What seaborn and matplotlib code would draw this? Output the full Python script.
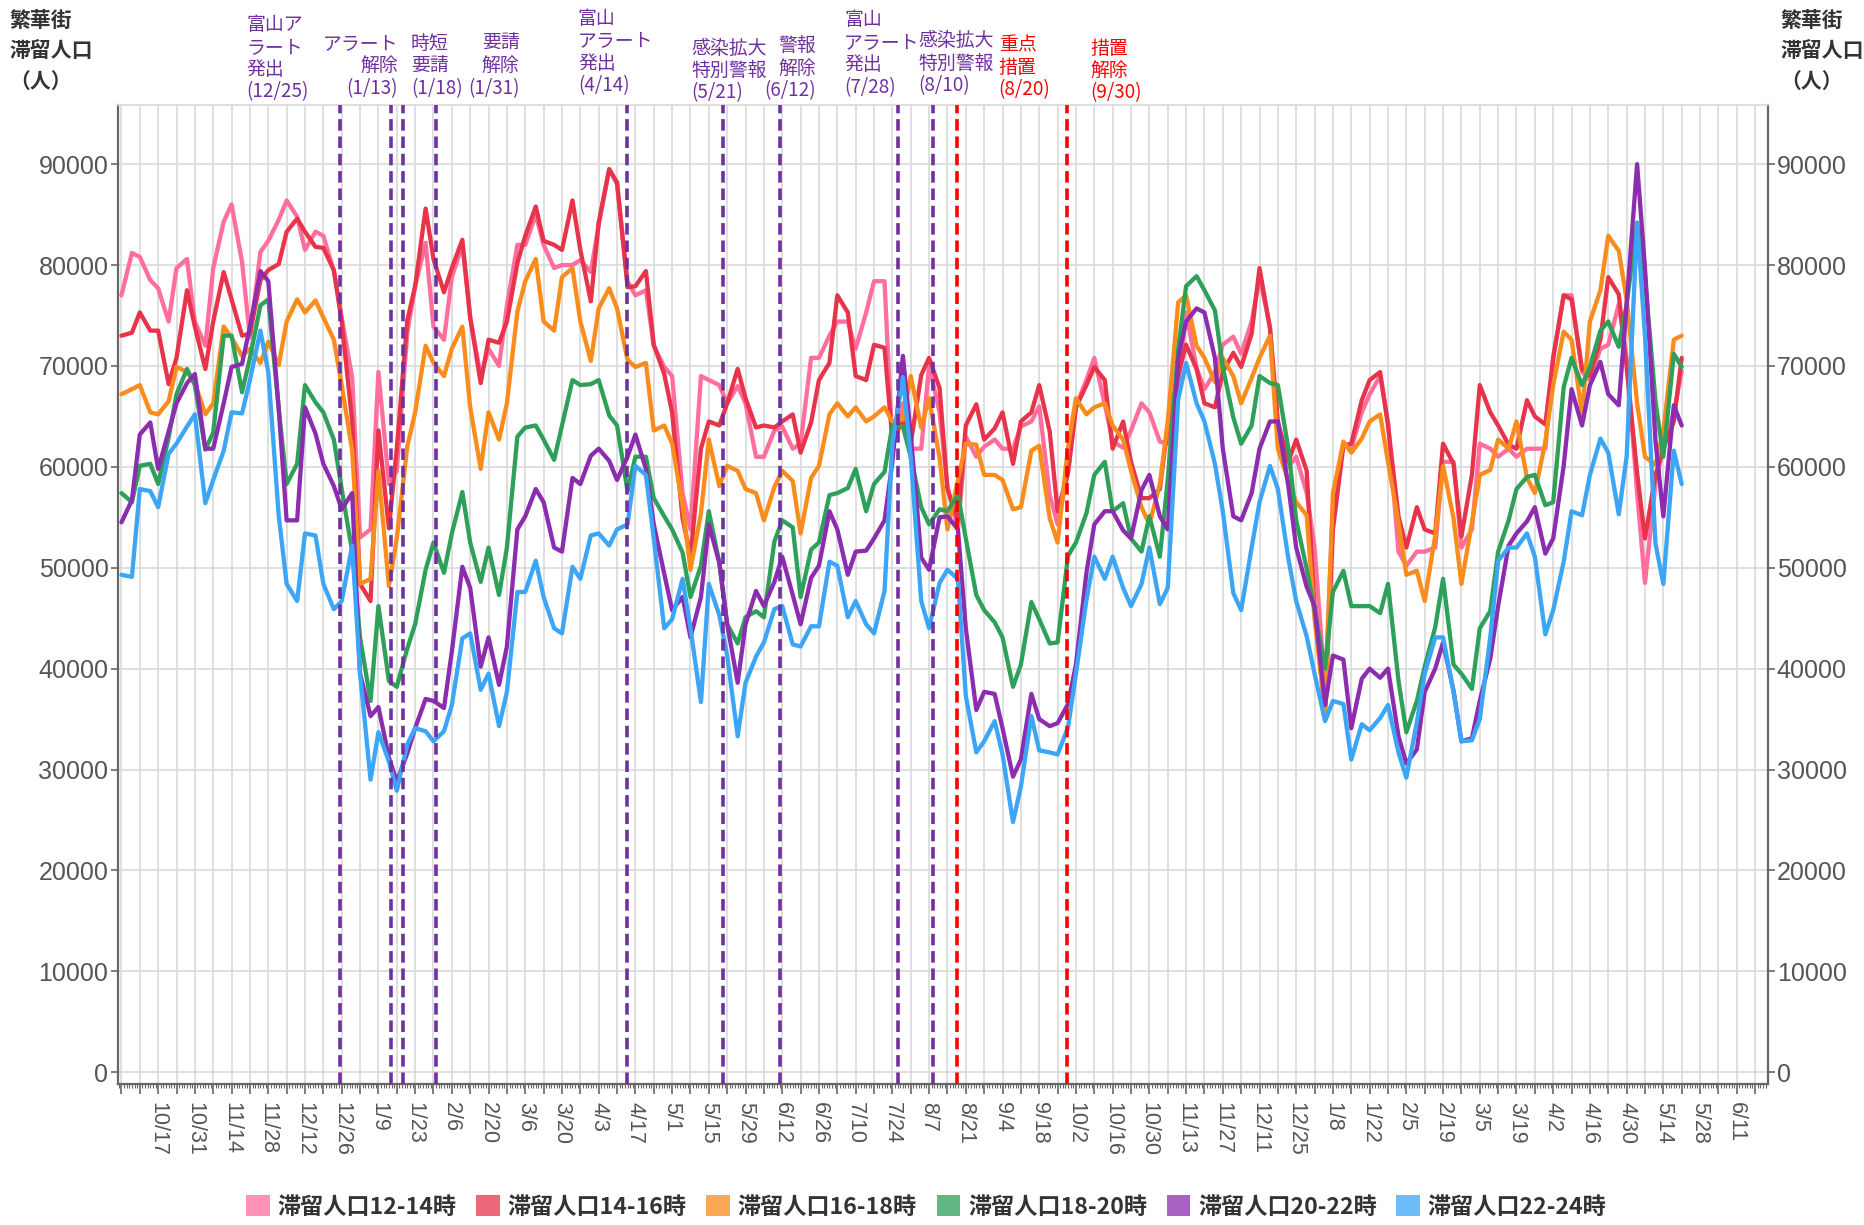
import pandas as pd
import numpy as np
import matplotlib
matplotlib.use("Agg")
import matplotlib.pyplot as plt
import matplotlib.dates as mdates
from matplotlib.ticker import FuncFormatter, FixedLocator
from matplotlib.patches import Patch
import seaborn as sns

# ---------------- data ----------------
# readings twice a week: every Saturday and every Wednesday, 2020-10-03 .. 2022-05-21
sat = pd.date_range('2020-10-03', '2022-05-21', freq='W-SAT')
wed = pd.date_range('2020-10-07', '2022-05-18', freq='W-WED')
dates = sat.union(wed)

pop_12_14 = [
    77000, 81200, 80800, 78500, 77700, 74400, 79700, 80600, 74400, 72000, 79700, 84300, 86000, 80300,
    72800, 81300, 82400, 84500, 86400, 84800, 81500, 83300, 82900, 79400, 74800, 68800,
    53000, 53800, 69400, 58300, 59600, 73300, 77900, 82200, 73900, 72600, 78800, 82000, 74800, 69000,
    71700, 70000, 76000, 82000, 82000, 85000, 82000, 79700, 80000, 80000, 80500, 79300, 84000, 89500,
    88000, 78400, 77000, 77500, 72000, 69900, 69000, 57400, 53800, 69000, 68600, 68100, 66300, 68000,
    66300, 61000, 61000, 63600, 64000, 61800, 62300, 70800, 70800, 73000, 74400, 74400, 71700, 75300,
    78400, 78400, 62000, 66300, 61800, 61800, 70000, 65400, 58000, 53800, 63000, 61000, 62000, 62700,
    61800, 61800, 64000, 64500, 66000, 57200, 54300, 59500, 66000, 68600, 70800, 66200, 62500, 61900,
    63600, 66300, 65400, 62500, 62300, 68100, 75300, 69800, 67700, 69400, 72100, 72900, 71200, 74400,
    78800, 73900, 62700, 60000, 61000, 57400,
    52000, 38000, 56000, 62300, 61800, 65400, 67200, 69000, 64500, 51600, 50200, 51600, 51600, 52000,
    60500, 60500, 52000, 53800, 62300, 61800, 61000, 61800, 61000, 61800, 61800, 61800, 70800, 77000,
    77000, 69400, 68600, 71700, 72100, 76100, 70800, 57400, 48500, 58300, 62000, 65400, 69500,
]
pop_14_16 = [
    73000, 73300, 75300, 73500, 73500, 68200, 70800, 77500, 73900, 69700, 74400, 79300, 76600, 73000,
    73200, 78500, 79500, 80100, 83300, 84600, 83300, 81800, 81700, 79500, 74400, 64500,
    48400, 46700, 63600, 53900, 61800, 74500, 77900, 85600, 80600, 77300, 79700, 82500, 74800, 68300,
    72600, 72300, 74400, 80200, 82900, 85800, 82400, 82000, 81500, 86400, 81500, 76400, 84200, 89500,
    88200, 77800, 77900, 79400, 72100, 69200, 65400, 54900, 51100, 61800, 64500, 64100, 66300, 69700,
    66800, 63900, 64100, 63900, 64500, 65200, 61400, 64400, 68600, 70300, 77000, 75300, 69000, 68600,
    72100, 71800, 62700, 64500, 62300, 69100, 70800, 67800, 57800, 54700, 64100, 66200, 62700, 63800,
    65400, 60300, 64500, 65400, 68100, 63500, 55600, 59500, 65900, 68100, 69900, 68600, 61800, 64500,
    60500, 56900, 56900, 57800, 64100, 69100, 72100, 69700, 66300, 65900, 69400, 71300, 69900, 73200,
    79700, 73700, 64500, 60500, 62700, 59600,
    45800, 35500, 53800, 62100, 62300, 66600, 68600, 69400, 64100, 55100, 52000, 56000, 53800, 53400,
    62300, 60300, 53100, 59200, 68100, 65400, 64100, 62200, 61800, 66600, 65000, 64200, 70800, 77000,
    76600, 69700, 69000, 72600, 78800, 77100, 69900, 59400, 52900, 59200, 61800, 64500, 70800,
]
pop_16_18 = [
    67200, 67700, 68100, 65400, 65200, 66500, 69900, 69400, 68300, 65200, 66300, 73900, 72800, 71000,
    71700, 70300, 72400, 70100, 74400, 76600, 75300, 76500, 74800, 72600, 68100, 61600,
    48400, 48900, 59600, 48200, 52900, 62000, 65400, 72000, 70300, 69000, 71700, 73900, 65900, 59800,
    65400, 62700, 66300, 75400, 78400, 80600, 74400, 73500, 78800, 79700, 74400, 70500, 75700, 77700,
    75700, 70600, 69900, 70300, 63600, 64100, 62300, 56200, 49800, 55400, 62700, 58100, 60100, 59600,
    57800, 57400, 54700, 58000, 59600, 58600, 53400, 58900, 60100, 65200, 66300, 65000, 65900, 64500,
    65000, 65900, 64500, 64700, 69000, 63900, 66800, 60900, 53800, 58700, 62300, 62200, 59200, 59200,
    58700, 55800, 56000, 61600, 62100, 54900, 52500, 62000, 66800, 65200, 65900, 66300, 64100, 62700,
    59600, 56000, 54300, 58300, 64500, 76300, 77000, 72000, 70800, 68400, 70800, 69000, 66300, 68800,
    70800, 73000, 61800, 58600, 56500, 55200,
    44900, 35700, 57400, 62500, 61400, 62800, 64500, 65200, 60500, 54500, 49300, 49700, 46700, 53200,
    60100, 54900, 48400, 54500, 59200, 59700, 62700, 61800, 64500, 58900, 57400, 62500, 68100, 73400,
    72600, 65200, 74400, 77500, 82900, 81400, 76600, 66300, 61000, 60200, 63600, 72600, 73000,
]
pop_18_20 = [
    57400, 56500, 60100, 60300, 58300, 62900, 67200, 69700, 68100, 61700, 63400, 73000, 73000, 67400,
    70800, 76000, 76600, 65700, 58300, 60300, 68100, 66400, 65400, 62700, 57800, 51600,
    43100, 36800, 46200, 38800, 38200, 42000, 44400, 49800, 52500, 49500, 53400, 57500, 52500, 48600,
    52000, 47300, 52000, 63000, 63900, 64100, 62700, 60700, 64100, 68600, 68100, 68200, 68600, 65100,
    64100, 57600, 61000, 61000, 56900, 55100, 53800, 51500, 47100, 50200, 55600, 50500, 44400, 42500,
    45100, 45700, 45100, 52600, 54700, 54000, 47100, 51800, 52500, 57200, 57400, 57900, 59800, 55600,
    58300, 59500, 64100, 64000, 61000, 56000, 54300, 55800, 55600, 57200, 52900, 47300, 45800, 44600,
    43100, 38200, 40400, 46600, 44900, 42500, 42600, 51200, 52500, 55400, 59200, 60500, 55600, 56400,
    52900, 51600, 55100, 51100, 58700, 71700, 77900, 78900, 77500, 75500, 69900, 64900, 62300, 64100,
    69000, 68300, 68100, 61800, 54700, 49900,
    45800, 40000, 47600, 49700, 46200, 46200, 46200, 45500, 48400, 38800, 33700, 36800, 40200, 44100,
    48900, 40400, 39500, 38000, 44000, 45700, 51600, 54700, 57800, 59000, 59200, 56200, 56500, 67900,
    70800, 68100, 69900, 73500, 74400, 71900, 76100, 84200, 78800, 66500, 61000, 71200, 69900,
]
pop_20_22 = [
    54500, 56700, 63200, 64400, 59800, 63500, 66300, 68300, 69200, 61800, 61800, 66300, 69900, 70200,
    73900, 79400, 78400, 65700, 54700, 54700, 65900, 63300, 60300, 58100, 55800, 57400,
    39500, 35300, 36200, 31200, 28800, 31600, 34100, 37000, 36800, 36100, 41700, 50100, 48000, 40200,
    43100, 38400, 42200, 53800, 55100, 57800, 56500, 52000, 51600, 58900, 58300, 61100, 61800, 60600,
    58700, 61000, 63200, 59800, 54300, 49400, 45800, 47100, 43100, 47100, 54300, 50500, 44400, 38600,
    44400, 47700, 46200, 48600, 51100, 47300, 44400, 49000, 50200, 55600, 53800, 49300, 51600, 51700,
    52900, 54700, 60500, 71000, 63200, 51000, 49800, 55000, 55100, 53800, 44000, 35900, 37700, 37500,
    34100, 29300, 31000, 37500, 35000, 34300, 34600, 36500, 40400, 49500, 54300, 55600, 55600, 53700,
    52900, 57700, 59200, 55100, 53800, 70800, 74400, 75700, 75300, 70800, 61800, 55100, 54700, 57400,
    61800, 64500, 64500, 58100, 52000, 48100,
    46200, 36400, 41300, 40900, 34100, 39000, 40000, 39100, 40000, 33300, 30600, 32000, 37700, 40000,
    42600, 37800, 32800, 33100, 36800, 41000, 46200, 52200, 53400, 54600, 56000, 51400, 52900, 60100,
    67700, 64100, 68100, 70400, 67200, 66100, 76100, 90000, 79700, 62600, 55100, 66100, 64100,
]
pop_22_24 = [
    49300, 49100, 57800, 57600, 56000, 61300, 62300, 64000, 65200, 56400, 58700, 61600, 65400, 65300,
    68600, 73500, 69400, 55100, 48400, 46700, 53400, 53200, 48400, 45900, 46700, 52200,
    39500, 29000, 33700, 30800, 27900, 32500, 34100, 33800, 32800, 33800, 36400, 43000, 43500, 37900,
    39500, 34300, 37700, 47600, 47600, 50700, 47100, 44000, 43500, 50100, 48900, 53200, 53400, 52200,
    53800, 54300, 60100, 59200, 52900, 44000, 44900, 48900, 44000, 36700, 48400, 45300, 41300, 33300,
    38600, 41200, 42600, 45900, 46200, 42400, 42200, 44200, 44200, 50600, 50200, 45100, 46700, 44400,
    43500, 47700, 62300, 68900, 61000, 46700, 44000, 48500, 49800, 48900, 37300, 31700, 32800, 34800,
    31500, 24800, 28300, 35300, 31900, 31700, 31500, 34200, 39500, 46800, 51100, 48900, 51100, 48000,
    46200, 48400, 52000, 46400, 48000, 66700, 70300, 66300, 64500, 60300, 55600, 47500, 45800, 52000,
    56500, 60100, 57800, 50900, 46700, 43200,
    39500, 34800, 36800, 36500, 31000, 34500, 33900, 35100, 36400, 31700, 29200, 34700, 39500, 43100,
    43100, 37700, 32800, 32900, 35000, 43100, 50700, 52000, 52000, 53400, 51100, 43400, 45800, 50600,
    55600, 55200, 59200, 62800, 61400, 55300, 61000, 84200, 73000, 52400, 48400, 61600, 58300,
]

series_names = ['滞留人口12-14時', '滞留人口14-16時', '滞留人口16-18時',
                '滞留人口18-20時', '滞留人口20-22時', '滞留人口22-24時']
series_values = [pop_12_14, pop_14_16, pop_16_18, pop_18_20, pop_20_22, pop_22_24]
line_colors = ['#FF6E9C', '#E8344B', '#FA8C1E', '#2EA05A', '#8C2DAF', '#3CA5F5']

event_dates = ['2020-12-25', '2021-01-13', '2021-01-18', '2021-01-31', '2021-04-14', '2021-05-21',
               '2021-06-12', '2021-07-28', '2021-08-10', '2021-08-20', '2021-09-30']
event_labels = ['富山ア\nラート\n発出\n(12/25)', 'アラート\n解除\n(1/13)', '時短\n要請\n(1/18)',
                '要請\n解除\n(1/31)', '富山\nアラート\n発出\n(4/14)', '感染拡大\n特別警報\n(5/21)',
                '警報\n解除\n(6/12)', '富山\nアラート\n発出\n(7/28)', '感染拡大\n特別警報\n(8/10)',
                '重点\n措置\n(8/20)', '措置\n解除\n(9/30)']
event_colors = ['#7030A0'] * 9 + ['#FF0000'] * 2

# layout of the event marks: small nudge of the dashed line (days), label offset (days),
# label alignment and label y (axes fraction)
line_nudge = [0.35, 0.7, 0.3, 0.0, -0.3, -0.5, -0.7, -1.7, -1.7, -2.2, -1.5]
label_offsets = [-35.5, 3.5, 3.4, 31.8, -18.9, -12.6, 12.9, -22.4, -7.0, 13.5, 7.4]
label_align = ['left', 'right', 'left', 'right', 'left', 'left', 'right', 'left', 'left', 'left', 'left']
label_y = [1.0022, 1.0059, 1.0059, 1.0059, 1.0084, 1.0011, 1.0035, 1.0071, 1.0084, 1.0047, 1.0011]

# ---------------- frame ----------------
df = pd.DataFrame({'date': dates})
for n, v in zip(series_names, series_values):
    df[n] = v
long = df.melt(id_vars='date', var_name='series', value_name='value')

sns.set_theme(style='whitegrid')
plt.rcParams['font.family'] = ['Noto Sans CJK JP', 'DejaVu Sans']
plt.rcParams['axes.unicode_minus'] = False

W, H = 1864, 1225
fig = plt.figure(figsize=(W / 100, H / 100), dpi=100)
ax = fig.add_axes([117.5 / W, 1 - 1084.2 / H, (1767.7 - 117.5) / W, (1084.2 - 104.6) / H])
ax.set_facecolor('white')

sns.lineplot(data=long, x='date', y='value', hue='series', hue_order=series_names,
             palette=line_colors, linewidth=3.1, estimator=None, legend=False, ax=ax, zorder=3)

base = pd.Timestamp('2020-12-25')
ax.set_xlim(base + pd.Timedelta(days=-84.5), base + pd.Timedelta(days=544.8))
ax.set_ylim(-1180, 95900)

# vertical event lines
for d, c, nd in zip(event_dates, event_colors, line_nudge):
    x = pd.Timestamp(d) + pd.Timedelta(days=nd)
    ax.axvline(x, color=c, lw=2.6, ls=(0, (3.2, 1.6)), zorder=6)

for d, lab, c, off, al, yy in zip(event_dates, event_labels, event_colors, label_offsets, label_align, label_y):
    x = pd.Timestamp(d) + pd.Timedelta(days=off)
    ax.text(x, yy, lab, transform=ax.get_xaxis_transform(), ha=al, va='bottom', color=c,
            fontsize=13.6, linespacing=1.09, clip_on=False, multialignment=al)

# ---------------- axes styling ----------------
week_ticks = pd.date_range('2020-10-03', '2022-06-25', freq='7D')
ax.xaxis.set_major_locator(FixedLocator(mdates.date2num(week_ticks)))
ax.xaxis.set_minor_locator(mdates.DayLocator())
label_start = pd.Timestamp('2020-10-17')

def fmt(x, pos):
    dt = mdates.num2date(x).replace(tzinfo=None)
    dd = (pd.Timestamp(dt.date()) - label_start).days
    if dd >= 0 and dd % 14 == 0:
        return f'{dt.month}/{dt.day}'
    return ''

ax.xaxis.set_major_formatter(FuncFormatter(fmt))
ax.set_yticks(np.arange(0, 90001, 10000))
ax.yaxis.set_major_formatter(FuncFormatter(lambda v, p: f'{int(v)}'))

ax.grid(True, which='major', axis='both', color='#d9d9d9', lw=1.2)
ax.grid(False, which='minor')
ax.set_axisbelow(True)

for s in ['left', 'right', 'bottom']:
    ax.spines[s].set_visible(True)
    ax.spines[s].set_color('#666666')
    ax.spines[s].set_linewidth(1.6)
ax.spines['top'].set_color('#d9d9d9')
ax.spines['top'].set_linewidth(1.2)

ax.tick_params(axis='x', which='major', bottom=True, length=7, width=1.2, color='#666666',
               labelsize=15.5, labelcolor='#555555', pad=6, labelrotation=-90)
ax.tick_params(axis='x', which='minor', bottom=True, length=3, width=0.8, color='#666666')
ax.tick_params(axis='y', which='major', left=True, right=True, labelleft=True, labelright=True,
               length=5, width=1.2, color='#666666', labelsize=18, labelcolor='#555555', pad=1.5)
for lab in ax.get_xticklabels() + ax.get_yticklabels():
    lab.set_fontfamily(['Liberation Sans', 'DejaVu Sans'])
for lab in ax.get_xticklabels():
    lab.set_verticalalignment('top')
    lab.set_horizontalalignment('center')

ax.set_xlabel('')
ax.set_ylabel('')

# axis titles
for xpos in (9.5 / W, 1780 / W):
    fig.text(xpos, 1 - 10 / H, '繁華街\n滞留人口\n（人）', ha='left', va='top', fontsize=15,
             fontweight='bold', color='#333333', linespacing=1.55)

# legend
handles = [Patch(facecolor=c, edgecolor='none', alpha=0.75) for c in line_colors]
fig.legend(handles, series_names, loc='center', bbox_to_anchor=(0.497, 1 - 1207 / H), ncol=6,
           frameon=False, prop={'weight': 'bold', 'size': 16.7}, labelcolor='#333333',
           handlelength=1.0, handleheight=1.0, handletextpad=0.35, columnspacing=0.85)

fig.savefig('out.png', dpi=100, facecolor='white')
